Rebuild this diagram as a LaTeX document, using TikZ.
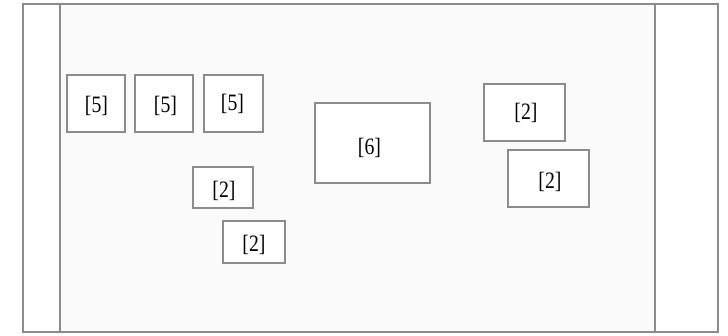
\documentclass[tikz,border=0pt]{standalone}
\usepackage{fontspec}
\usepackage{graphicx}
\setmainfont{Liberation Serif}
\definecolor{frame}{HTML}{8C8C8C}
\definecolor{inner}{HTML}{FAFAFA}
\newcommand\celltext[1]{\scalebox{0.84}[1]{#1}}
\begin{document}
\begin{tikzpicture}[x=1pt,y=1pt,
  framestyle/.style={draw=frame,line width=1.8pt},
  cell/.style={draw=frame,line width=1.6pt,fill=white,inner sep=0pt},
  txt/.style={inner sep=0pt,font=\fontsize{23.5}{26}\selectfont,text=black}]
\useasboundingbox (0,0) rectangle (728,335);
% field
\fill[inner] (60,3) rectangle (655,331);
\draw[framestyle] (23,3) rectangle (718,331);
\draw[framestyle] (60,3) -- (60,331);
\draw[framestyle] (655,3) -- (655,331);
% boxes
\node[cell,minimum width=58pt,minimum height=57pt] (a) at (96,231.5) {};
\node[cell,minimum width=58pt,minimum height=57pt] (b) at (164,231.5) {};
\node[cell,minimum width=59pt,minimum height=57pt] (c) at (233.5,231.5) {};
\node[cell,minimum width=60pt,minimum height=41pt] (d) at (223,147.5) {};
\node[cell,minimum width=62pt,minimum height=42pt] (e) at (254,93) {};
\node[cell,minimum width=115pt,minimum height=80pt] (f) at (372.5,192) {};
\node[cell,minimum width=81pt,minimum height=57pt] (g) at (524.5,222.5) {};
\node[cell,minimum width=81pt,minimum height=57pt] (h) at (548.5,156.5) {};
% labels
\node[txt] (ta) at ([shift={(0.5,-2)}]a.center) {\celltext{[5]}};
\node[txt] (tb) at ([shift={(1.5,-2.5)}]b.center) {\celltext{[5]}};
\node[txt] (tc) at ([shift={(-1,0)}]c.center) {\celltext{[5]}};
\node[txt] (td) at ([shift={(1,-3)}]d.center) {\celltext{[2]}};
\node[txt] (te) at ([shift={(0,-3)}]e.center) {\celltext{[2]}};
\node[txt] (tf) at ([shift={(-3,-5)}]f.center) {\celltext{[6]}};
\node[txt] (tg) at ([shift={(1.5,0)}]g.center) {\celltext{[2]}};
\node[txt] (th) at ([shift={(1.5,-3)}]h.center) {\celltext{[2]}};
\end{tikzpicture}
\end{document}
